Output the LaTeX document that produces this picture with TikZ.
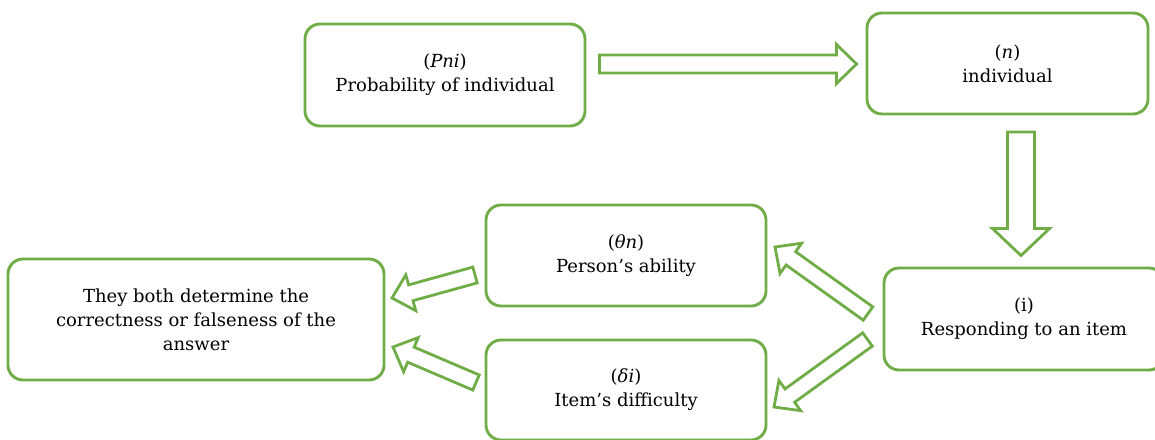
\documentclass[tikz,border=0pt]{standalone}
\usepackage{fontspec}
\setmainfont{DejaVu Serif}
\usetikzlibrary{calc}
\definecolor{leaf}{RGB}{112,173,71}

% hollow block arrow: name, tail, tip, shaft half-width, head half-width, head length
\newcommand\flowarrow[6]{%
  \coordinate (#1-b) at ($(#3)!#6!(#2)$);
  \draw[blockarr] ($(#2)!#4!90:(#3)$) -- ($(#1-b)!#4!-90:(#2)$)
    -- ($(#1-b)!#5!-90:(#2)$) -- (#3) -- ($(#1-b)!#5!90:(#2)$)
    -- ($(#1-b)!#4!90:(#2)$) -- ($(#2)!#4!-90:(#3)$) -- cycle;
}

\begin{document}
\begin{tikzpicture}[x=1pt,y=-1pt,
  stepbox/.style={draw=leaf, line width=2.9pt, rounded corners=15pt, fill=white,
    align=center, font=\fontsize{18}{24}\selectfont, inner sep=0pt},
  blockarr/.style={draw=leaf, line width=2.8pt, fill=white, line join=miter}]
\useasboundingbox (0,0) rectangle (1155,439);

% boxes
\node[stepbox, minimum width=280pt, minimum height=102pt] (pni) at (445,75)
  {(\textit{Pni})\\Probability of individual};
\node[stepbox, minimum width=281pt, minimum height=101pt] (ind) at (1007.5,63.5)
  {(\textit{n})\\individual};
\node[stepbox, minimum width=280pt, minimum height=101pt] (abil) at (626,255.5)
  {(\textit{θn})\\Person’s ability};
\node[stepbox, minimum width=280pt, minimum height=100pt] (diff) at (626,390)
  {(\textit{δi})\\Item’s difficulty};
\node[stepbox, minimum width=280pt, minimum height=102pt] (resp) at (1024,319)
  {(i)\\Responding to an item};
\node[stepbox, minimum width=376pt, minimum height=121pt] (ans) at (196,319.5)
  {They both determine the\\correctness or falseness of the\\answer};

% arrow end points
\coordinate (a1t) at ($(pni.east)+(13,-11)$);
\coordinate (a1h) at ($(ind.west)+(-9,0.5)$);
\coordinate (a2t) at ($(ind.south)+(13.5,16.5)$);
\coordinate (a2h) at ($(resp.north)+(-3,-11)$);
\coordinate (a3t) at (868,313.5);
\coordinate (a3h) at (775,247);
\coordinate (a4t) at (867.5,339.5);
\coordinate (a4h) at (774,407);
\coordinate (a5t) at (475,275);
\coordinate (a5h) at (392,298);
\coordinate (a6t) at (476,382.5);
\coordinate (a6h) at (393,347);

% connectors
\flowarrow{a1}{a1t}{a1h}{9pt}{19.5pt}{20pt}
\flowarrow{a2}{a2t}{a2h}{13.5pt}{28.5pt}{27pt}
\flowarrow{a3}{a3t}{a3h}{8.2pt}{18.6pt}{19.5pt}
\flowarrow{a4}{a4t}{a4h}{8.2pt}{18.6pt}{19.5pt}
\flowarrow{a5}{a5t}{a5h}{8.2pt}{18.6pt}{19.5pt}
\flowarrow{a6}{a6t}{a6h}{8.2pt}{18.6pt}{19.5pt}
\end{tikzpicture}
\end{document}
